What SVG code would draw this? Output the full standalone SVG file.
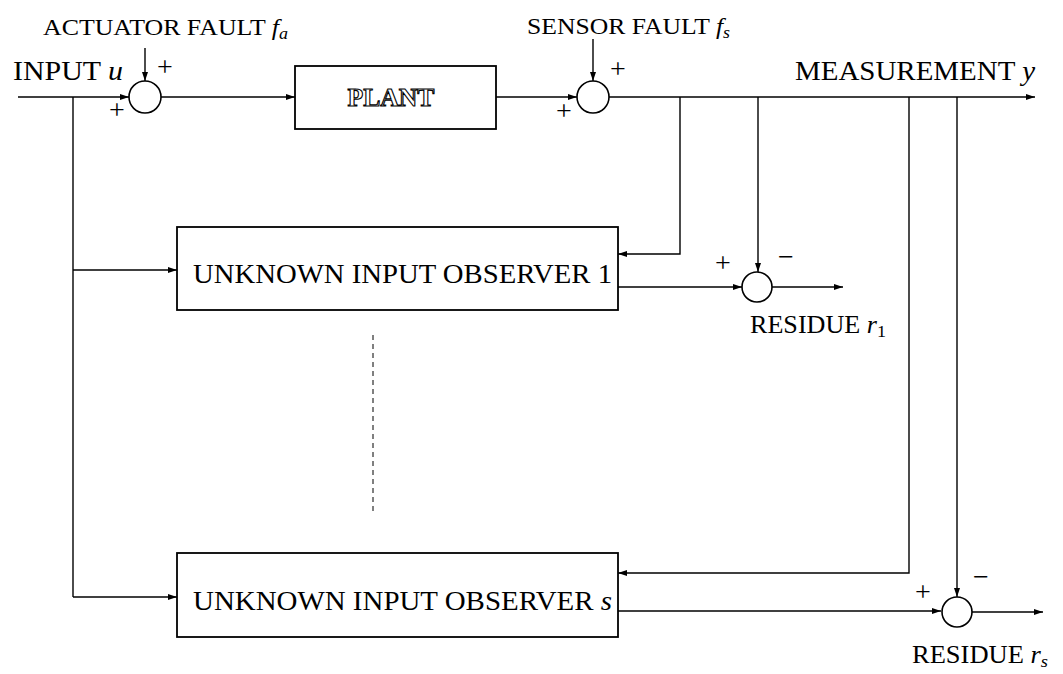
<svg xmlns="http://www.w3.org/2000/svg" width="1063" height="674" viewBox="0 0 1063 674">
<defs>
<marker id="ah" markerUnits="userSpaceOnUse" markerWidth="9" markerHeight="6" refX="9" refY="3" orient="auto">
<path d="M0,0 L9,3 L0,6 z" fill="#000"/>
</marker>
<style>
.ln{fill:none;stroke:#000;stroke-width:1.4}
.ar{fill:none;stroke:#000;stroke-width:1.4;marker-end:url(#ah)}
.box{fill:#fff;stroke:#000;stroke-width:1.8}
.sum{fill:#fff;stroke:#000;stroke-width:1.6}
.big{font-family:"Liberation Serif","Times New Roman",serif;font-size:27px;fill:#000}
.sml{font-family:"Liberation Serif","Times New Roman",serif;font-size:23px;fill:#000}
.res{font-family:"Liberation Serif","Times New Roman",serif;font-size:24.5px;fill:#000}
.sgn{font-family:"Liberation Serif","Times New Roman",serif;font-size:28px;fill:#000;text-anchor:middle}
.it{font-style:italic}
.plant{font-family:"Liberation Serif","Times New Roman",serif;font-size:26px;font-weight:bold;fill:#fff;stroke:#000;stroke-width:1.1}
</style>
</defs>
<rect width="1063" height="674" fill="#fff"/>

<g id="connectors">
<path class="ar" d="M18,97 H129"/>
<path class="ar" d="M145,48 V81"/>
<path class="ar" d="M161,97 H295"/>
<path class="ar" d="M496,97 H577"/>
<path class="ar" d="M593,39 V81"/>
<path class="ar" d="M609,97 H1035"/>
<path class="ln" d="M73,97 V597"/>
<path class="ar" d="M73,270 H177"/>
<path class="ar" d="M73,597 H177"/>
<path class="ar" d="M680,97 V254 H618"/>
<path class="ar" d="M758,97 V272"/>
<path class="ar" d="M618,287 H742"/>
<path class="ar" d="M772,287 H843"/>
<path class="ar" d="M909,97 V573 H618"/>
<path class="ar" d="M957,97 V597"/>
<path class="ar" d="M618,611 H941"/>
<path class="ar" d="M972,612 H1043"/>
<path d="M373,335 V515" fill="none" stroke="#000" stroke-width="1" stroke-dasharray="5,4"/>
</g>

<g id="labels">
<text class="sml" x="43" y="35" textLength="245" lengthAdjust="spacingAndGlyphs">ACTUATOR FAULT <tspan class="it">f</tspan><tspan class="it" font-size="16" dy="4">a</tspan></text>
<text class="sml" x="527" y="34" textLength="203" lengthAdjust="spacingAndGlyphs">SENSOR FAULT <tspan class="it">f</tspan><tspan class="it" font-size="16" dy="4">s</tspan></text>
<text class="big" x="13" y="80" textLength="110" lengthAdjust="spacingAndGlyphs">INPUT <tspan class="it">u</tspan></text>
<text class="big" x="795" y="80" textLength="240" lengthAdjust="spacingAndGlyphs">MEASUREMENT <tspan class="it">y</tspan></text>
<text class="res" x="750" y="333" textLength="136" lengthAdjust="spacingAndGlyphs">RESIDUE <tspan class="it">r</tspan><tspan font-size="17" dy="4">1</tspan></text>
<text class="res" x="912" y="663" textLength="136" lengthAdjust="spacingAndGlyphs">RESIDUE <tspan class="it">r</tspan><tspan class="it" font-size="17" dy="4">s</tspan></text>
</g>

<g id="sum1">
<circle class="sum" cx="145" cy="97" r="16"/>
<text class="sgn" x="165" y="76">+</text>
<text class="sgn" x="117" y="119">+</text>
</g>

<g id="plant">
<rect class="box" x="295" y="66" width="201" height="63"/>
<text class="plant" x="391" y="106" text-anchor="middle" textLength="87" lengthAdjust="spacingAndGlyphs">PLANT</text>
</g>

<g id="sum2">
<circle class="sum" cx="593" cy="97" r="16"/>
<text class="sgn" x="618" y="78">+</text>
<text class="sgn" x="564" y="120">+</text>
</g>

<g id="observer1">
<rect class="box" x="177" y="227" width="441" height="83"/>
<text class="big" x="193" y="283" textLength="419" lengthAdjust="spacingAndGlyphs">UNKNOWN INPUT OBSERVER 1</text>
</g>

<g id="sum3">
<circle class="sum" cx="757" cy="287" r="15"/>
<text class="sgn" x="723" y="272">+</text>
<text class="sgn" x="786" y="266">−</text>
</g>

<g id="observers">
<rect class="box" x="177" y="553" width="441" height="84"/>
<text class="big" x="193" y="610" textLength="419" lengthAdjust="spacingAndGlyphs">UNKNOWN INPUT OBSERVER <tspan class="it">s</tspan></text>
</g>

<g id="sum4">
<circle class="sum" cx="957" cy="612" r="15"/>
<text class="sgn" x="923" y="601">+</text>
<text class="sgn" x="981" y="586">−</text>
</g>
</svg>
